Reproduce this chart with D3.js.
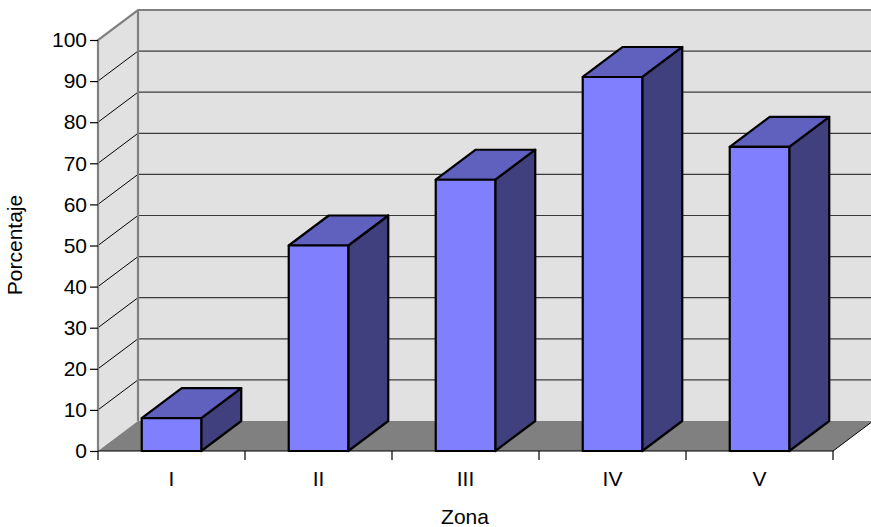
<!DOCTYPE html>
<html>
<head>
<meta charset="utf-8">
<script src="https://cdn.jsdelivr.net/npm/d3@7"></script>
<style>
  html, body { margin: 0; padding: 0; background: #fff; }
  svg { display: block; font-family: "Liberation Sans", Arial, sans-serif; }
</style>
</head>
<body>
<svg id="chart" width="871" height="527"></svg>
<script>
// Data
const zonas = ["I", "II", "III", "IV", "V"];
const porcentajes = [8, 50, 66, 91, 74];
const yTicks = [0, 10, 20, 30, 40, 50, 60, 70, 80, 90, 100];

(function () {
const svg = d3.select("#chart");

// Plot frame (front plane) and 3D depth offset
const pLeft = 98, pRight = 833, pTop = 40, pBottom = 451;
const dx = 40, dy = -30;

const x = d3.scaleBand().domain(zonas).range([pLeft, pRight]).padding(0);
const y = d3.scaleLinear().domain([0, 100]).range([pBottom, pTop]);

const wallFill = "#e1e1e1";
const wallEdge = "#808080";

// Back wall
svg.append("rect")
  .attr("x", pLeft + dx).attr("y", pTop + dy)
  .attr("width", pRight - pLeft + 10).attr("height", pBottom - pTop)
  .attr("fill", wallFill);

// Side wall
svg.append("polygon")
  .attr("points", [[pLeft, pTop], [pLeft + dx, pTop + dy], [pLeft + dx, pBottom + dy], [pLeft, pBottom]].join(" "))
  .attr("fill", wallFill);

// Floor
svg.append("polygon")
  .attr("points", [[pLeft, pBottom], [pLeft + dx, pBottom + dy], [pRight + dx, pBottom + dy], [pRight, pBottom]].join(" "))
  .attr("fill", "#808080");

// Gridlines on back wall and side wall
const grid = yTicks.filter(v => v > 0 && v < 100);
svg.append("g").selectAll("line").data(grid).join("line")
  .attr("x1", pLeft + dx).attr("x2", pRight + dx + 10)
  .attr("y1", d => y(d) + dy).attr("y2", d => y(d) + dy)
  .attr("stroke", "#3a3a3a").attr("stroke-width", 1.2);
svg.append("g").selectAll("line").data(grid).join("line")
  .attr("x1", pLeft).attr("x2", pLeft + dx)
  .attr("y1", d => y(d)).attr("y2", d => y(d) + dy)
  .attr("stroke", "#000").attr("stroke-width", 1);

// Wall edges
svg.append("path")
  .attr("d", `M${pLeft},${pBottom} L${pLeft},${pTop} L${pLeft + dx},${pTop + dy} L${pRight + dx + 10},${pTop + dy}`)
  .attr("fill", "none").attr("stroke", wallEdge).attr("stroke-width", 2.2);
svg.append("line")
  .attr("x1", pLeft + dx).attr("x2", pLeft + dx)
  .attr("y1", pTop + dy).attr("y2", pBottom + dy)
  .attr("stroke", wallEdge).attr("stroke-width", 2.2);
svg.append("line")
  .attr("x1", pRight).attr("x2", pRight + dx)
  .attr("y1", pBottom).attr("y2", pBottom + dy)
  .attr("stroke", "#000").attr("stroke-width", 1);

// Bars (front, top, side faces)
const barW = x.bandwidth() * 0.405;
const bars = svg.append("g").selectAll("g").data(zonas.map((z, i) => ({ z, v: porcentajes[i] }))).join("g");
bars.each(function (d) {
  const g = d3.select(this);
  const x0 = x(d.z) + (x.bandwidth() - barW) / 2;
  const x1 = x0 + barW;
  const yt = y(d.v), yb = y(0);
  const style = sel => sel.attr("stroke", "#000").attr("stroke-width", 2.2).attr("stroke-linejoin", "round");
  style(g.append("polygon")
    .attr("points", [[x1, yt], [x1 + dx, yt + dy], [x1 + dx, yb + dy], [x1, yb]].join(" "))
    .attr("fill", "#40407e"));
  style(g.append("polygon")
    .attr("points", [[x0, yt], [x0 + dx, yt + dy], [x1 + dx, yt + dy], [x1, yt]].join(" "))
    .attr("fill", "#6060bf"));
  style(g.append("rect")
    .attr("x", x0).attr("y", yt).attr("width", barW).attr("height", yb - yt)
    .attr("fill", "#8080ff"));
});

// Y axis
const yAxis = svg.append("g").attr("transform", `translate(${pLeft},0)`)
  .call(d3.axisLeft(y).tickValues(yTicks).tickSize(8).tickPadding(3));
yAxis.select(".domain").remove();
yAxis.selectAll(".tick line").attr("stroke", "#000").attr("stroke-width", 1.2);
yAxis.selectAll(".tick text").attr("font-size", 21).attr("fill", "#000")
  .attr("font-family", "Liberation Sans, Arial, sans-serif");

// X axis
svg.append("line")
  .attr("x1", pLeft).attr("x2", pRight).attr("y1", pBottom).attr("y2", pBottom)
  .attr("stroke", "#000").attr("stroke-width", 1.2);
const xEdges = zonas.map(z => x(z)).concat([pRight]);
svg.append("g").selectAll("line").data(xEdges).join("line")
  .attr("x1", d => d).attr("x2", d => d)
  .attr("y1", pBottom).attr("y2", pBottom + 9)
  .attr("stroke", "#000").attr("stroke-width", 1.2);
svg.append("g").selectAll("text").data(zonas).join("text")
  .attr("x", d => x(d) + x.bandwidth() / 2)
  .attr("y", 486)
  .attr("text-anchor", "middle")
  .attr("font-size", 21)
  .text(d => d);

// Axis titles
svg.append("text")
  .attr("x", 465).attr("y", 524)
  .attr("text-anchor", "middle").attr("font-size", 21)
  .text("Zona");
svg.append("text")
  .attr("transform", "translate(22,245) rotate(-90)")
  .attr("text-anchor", "middle").attr("font-size", 21)
  .text("Porcentaje");
})();
</script>
</body>
</html>
